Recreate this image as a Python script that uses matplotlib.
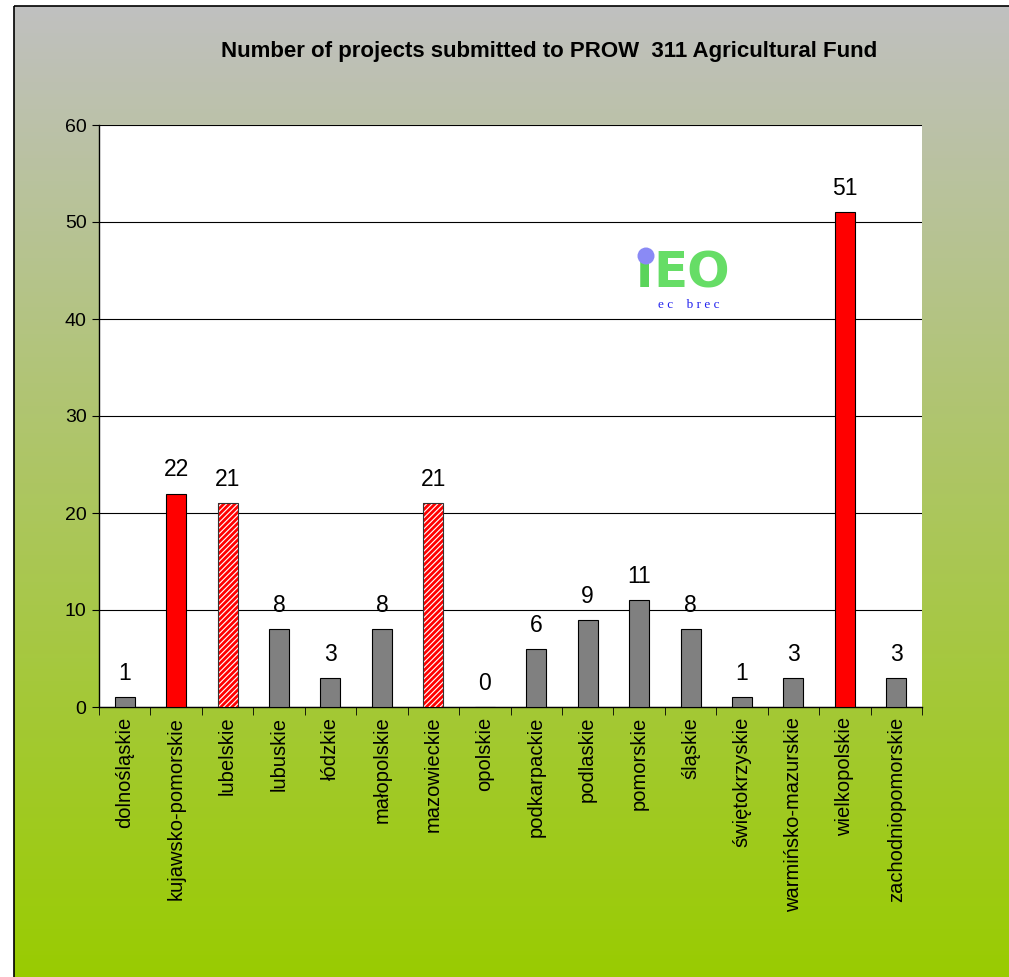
import numpy as np
import matplotlib
matplotlib.use("Agg")
import matplotlib.pyplot as plt
from matplotlib.patches import Rectangle, Circle

plt.rcParams['font.family'] = ['Liberation Sans', 'DejaVu Sans']
plt.rcParams['hatch.linewidth'] = 2.0

regions = ["dolnośląskie", "kujawsko-pomorskie", "lubelskie", "lubuskie", "łódzkie",
           "małopolskie", "mazowieckie", "opolskie", "podkarpackie", "podlaskie",
           "pomorskie", "śląskie", "świętokrzyskie", "warmińsko-mazurskie",
           "wielkopolskie", "zachodniopomorskie"]
values = [1, 22, 21, 8, 3, 8, 21, 0, 6, 9, 11, 8, 1, 3, 51, 3]
styles = ["gray", "red", "hatch", "gray", "gray", "gray", "hatch", "gray", "gray",
          "gray", "gray", "gray", "gray", "gray", "red", "gray"]
yticks = [0, 10, 20, 30, 40, 50, 60]
title = "Number of projects submitted to PROW  311 Agricultural Fund"

W, H = 1009, 977
fig = plt.figure(figsize=(W / 100, H / 100), dpi=100)

# background gradient
bg = fig.add_axes([0, 0, 1, 1])
bg.set_xlim(0, W)
bg.set_ylim(H, 0)
bg.axis('off')
top_c = np.array([192, 192, 192]) / 255
bot_c = np.array([153, 204, 0]) / 255
t = np.linspace(0, 1, 256)[:, None]
grad = top_c[None, :] * (1 - t) + bot_c[None, :] * t
grad = np.repeat(grad[:, None, :], 2, axis=1)
bg.imshow(grad, extent=[14, W + 5, H + 5, 6], aspect='auto', zorder=0)
bg.add_patch(Rectangle((14, 6), W, H, fill=False, edgecolor='black', linewidth=1.2, zorder=1))
bg.text(549, 52, title, ha='center', va='center', fontsize=16, fontweight='bold')

ax = fig.add_axes([99 / W, 1 - 707 / H, (922 - 99) / W, (707 - 125) / H])
ax.set_facecolor('white')
x = np.arange(len(regions))
for xi, v, s in zip(x, values, styles):
    if s == "gray":
        ax.bar(xi, v, width=0.39, color='#808080', edgecolor='black', linewidth=0.8, zorder=3)
    elif s == "red":
        ax.bar(xi, v, width=0.39, color='#ff0000', edgecolor='black', linewidth=0.8, zorder=3)
    else:
        ax.bar(xi, v, width=0.39, color='white', edgecolor='#ff0000', hatch='//////',
               linewidth=0, zorder=3)
        ax.bar(xi, v, width=0.39, fill=False, edgecolor='#333333', linewidth=0.8, zorder=4)
    ax.text(xi, v + 1.25, str(v), ha='center', va='bottom', fontsize=16.5)

ax.set_xlim(-0.5, len(regions) - 0.5)
ax.set_ylim(0, 60)
ax.set_yticks(yticks)
ax.set_yticklabels([str(v) for v in yticks], fontsize=14)
ax.yaxis.grid(True, color='black', linewidth=0.8, zorder=1)
ax.set_axisbelow(True)
ax.set_xticks(x)
ax.set_xticklabels(regions, rotation=90, fontsize=14.5)
ax.tick_params(axis='x', length=0, pad=7)
ax.set_xticks(np.arange(len(regions) + 1) - 0.5, minor=True)
ax.tick_params(axis='x', which='minor', length=6, direction='out', color='black')
ax.tick_params(axis='y', length=5, direction='out', pad=4)
for sp in ['top', 'right']:
    ax.spines[sp].set_visible(False)
ax.spines['left'].set_linewidth(1.0)
ax.spines['bottom'].set_linewidth(1.0)

# logo (overlay)
lg = fig.add_axes([0, 0, 1, 1], facecolor='none')
lg.set_xlim(0, W)
lg.set_ylim(H, 0)
lg.axis('off')
lg.text(636, 287, "ı", fontsize=36, fontweight='bold', color='#5ad45a', ha='left',
        va='baseline', family='DejaVu Sans', zorder=3)
lg.add_patch(Circle((646, 256), 8.5, facecolor='#8a8af5', edgecolor='none', zorder=3))
lg.text(653, 287, "EO", fontsize=36, fontweight='bold', color='#66dd66', ha='left',
        va='baseline', family='DejaVu Sans', zorder=3)
lg.text(689, 299, "e c    b r e c", fontsize=9.5, color='#2222ee', ha='center', va='top',
        family='Liberation Serif', zorder=3)

fig.savefig("out.png", dpi=100)
